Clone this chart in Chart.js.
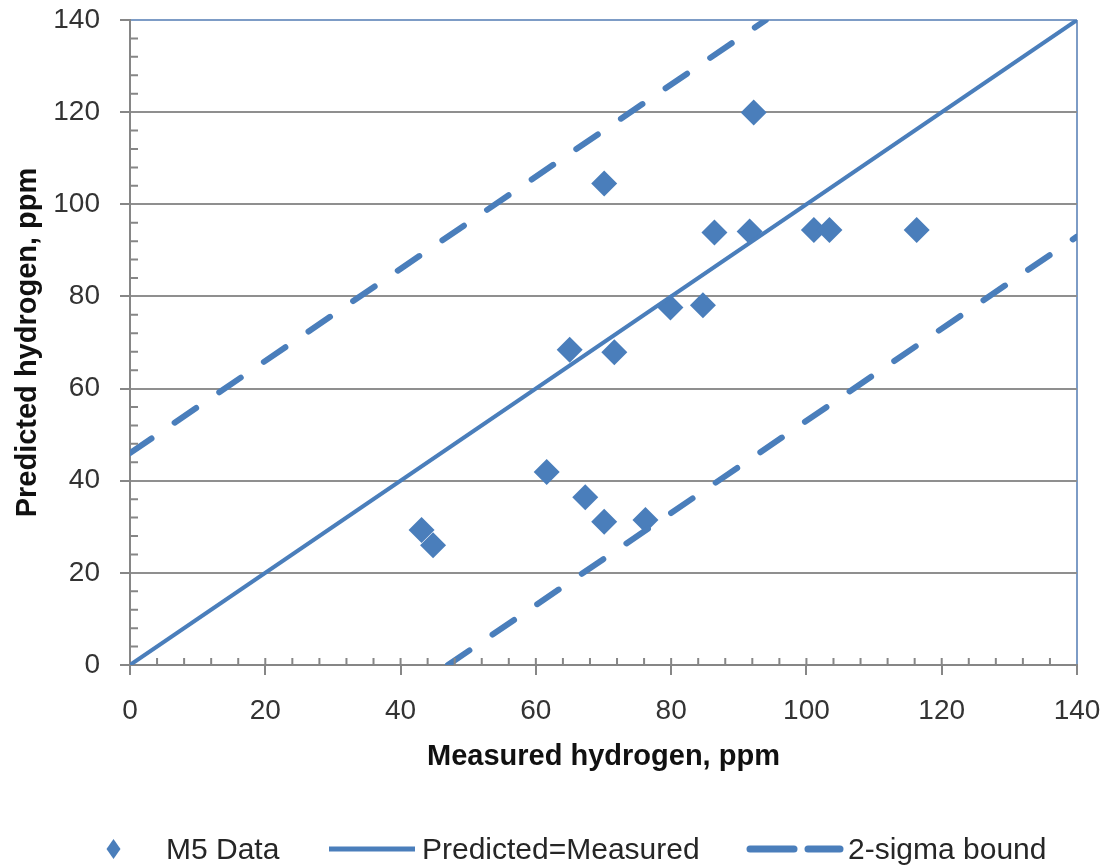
<!DOCTYPE html>
<html>
<head>
<meta charset="utf-8">
<script src="https://cdn.jsdelivr.net/npm/chart.js@4.4.1/dist/chart.umd.min.js"></script>
<style>
  body { margin: 0; background: #fff; }
  #wrap { position: relative; width: 1114px; height: 867px; }
  #legend { position: absolute; left: 0; top: 831px; width: 1114px; height: 36px;
    font: 30px "Liberation Sans", Arial, sans-serif; color: #262626; }
  #legend .item { position: absolute; top: 0; height: 36px; line-height: 36px; white-space: nowrap; }
  #legend svg { position: absolute; top: 0; }
</style>
</head>
<body>
<div id="wrap">
  <canvas id="chart" width="1114" height="867"></canvas>
  <div id="legend">
    <svg style="left:105px" width="17" height="36"><polygon points="8.5,8 15.5,18 8.5,28 1.5,18" fill="#4a7ebb"/></svg>
    <span class="item" style="left:166px">M5 Data</span>
    <svg style="left:326px" width="92" height="36"><line x1="3" y1="18" x2="89" y2="18" stroke="#4a7ebb" stroke-width="5"/></svg>
    <span class="item" style="left:422px">Predicted=Measured</span>
    <svg style="left:746px" width="100" height="36"><line x1="4" y1="18" x2="48" y2="18" stroke="#4a7ebb" stroke-width="7" stroke-linecap="round"/><line x1="62" y1="18" x2="94" y2="18" stroke="#4a7ebb" stroke-width="7" stroke-linecap="round"/></svg>
    <span class="item" style="left:848px">2-sigma bound</span>
  </div>
</div>
<script>
// M5 data points
const measured = [43.1, 44.8, 61.6, 65.0, 67.3, 70.1, 70.1, 71.6, 76.2, 79.9, 84.7, 86.4, 91.6, 92.2, 101.1, 103.4, 116.3];
const predicted = [29.3, 26.0, 41.9, 68.4, 36.4, 104.5, 31.1, 67.9, 31.5, 77.6, 78.1, 93.9, 94.1, 119.9, 94.4, 94.4, 94.4];

// reference lines
const equalLineX = [0, 140];
const equalLineY = [0, 140];
const upperBoundX = [0, 94];
const upperBoundY = [46, 140];
const lowerBoundX = [47, 140];
const lowerBoundY = [0, 93];

const axisMin = 0;
const axisMax = 140;
const majorStep = 20;
const minorStep = 4;

const blue = '#4a7ebb';
const frameBlue = '#7d9cc6';
const axisGray = '#868686';
const gridGray = '#8f8f8f';
const tickFont = { family: '"Liberation Sans", Arial, sans-serif', size: 28 };
const titleFont = { family: '"Liberation Sans", Arial, sans-serif', size: 29, weight: 'bold' };

const toPoints = (xs, ys) => xs.map((x, i) => ({ x: x, y: ys[i] }));

// minor tick marks, plus the inner half of the major x ticks
const minorTicks = {
  id: 'minorTicks',
  afterDraw(chart) {
    const ctx = chart.ctx;
    const xs = chart.scales.x, ys = chart.scales.y;
    const y0 = ys.getPixelForValue(axisMin);
    const x0 = xs.getPixelForValue(axisMin);
    ctx.save();
    ctx.strokeStyle = axisGray;
    ctx.lineWidth = 2;
    ctx.beginPath();
    for (let v = axisMin + minorStep; v < axisMax; v += minorStep) {
      const px = xs.getPixelForValue(v);
      ctx.moveTo(px, y0);
      ctx.lineTo(px, y0 - 7);
      const py = ys.getPixelForValue(v);
      if (v % majorStep !== 0) {
        ctx.moveTo(x0, py);
        ctx.lineTo(x0 + 8, py);
      }
    }
    ctx.stroke();
    ctx.restore();
  }
};

new Chart(document.getElementById('chart'), {
  type: 'scatter',
  data: {
    datasets: [
      {
        label: 'Predicted=Measured',
        data: toPoints(equalLineX, equalLineY),
        showLine: true,
        borderColor: blue,
        borderWidth: 4,
        pointRadius: 0,
        order: 0
      },
      {
        label: '2-sigma bound',
        data: toPoints(upperBoundX, upperBoundY),
        showLine: true,
        borderColor: blue,
        borderWidth: 6,
        borderDash: [26, 28],
        borderCapStyle: 'round',
        pointRadius: 0,
        order: 0
      },
      {
        label: '2-sigma bound (lower)',
        data: toPoints(lowerBoundX, lowerBoundY),
        showLine: true,
        borderColor: blue,
        borderWidth: 6,
        borderDash: [26, 28],
        borderCapStyle: 'round',
        pointRadius: 0,
        order: 0
      },
      {
        label: 'M5 Data',
        data: toPoints(measured, predicted),
        pointStyle: 'rectRot',
        pointRadius: 13,
        pointBorderWidth: 0,
        backgroundColor: blue,
        borderColor: blue,
        order: 1
      }
    ]
  },
  options: {
    responsive: false,
    animation: false,
    layout: { padding: { left: 0, top: 20, right: 37, bottom: 77 } },
    plugins: {
      legend: { display: false },
      tooltip: { enabled: false }
    },
    scales: {
      x: {
        type: 'linear',
        min: axisMin,
        max: axisMax,
        afterFit: (s) => { s.height = 125; s.paddingLeft = 0; s.paddingRight = 0; },
        border: { color: axisGray, width: 2 },
        grid: {
          color: (c) => (c.tick && c.tick.value === axisMax ? frameBlue : 'rgba(0,0,0,0)'),
          tickColor: axisGray,
          lineWidth: 2,
          tickLength: 10
        },
        ticks: { stepSize: majorStep, font: tickFont, color: '#333', padding: 19, maxRotation: 0 },
        title: { display: true, text: 'Measured hydrogen, ppm', font: titleFont, color: '#111', padding: { top: 0, bottom: 16 } }
      },
      y: {
        type: 'linear',
        min: axisMin,
        max: axisMax,
        afterFit: (s) => { s.width = 130; s.paddingTop = 0; s.paddingBottom = 0; },
        border: { color: axisGray, width: 2 },
        grid: {
          color: (c) => (c.tick && c.tick.value === axisMax ? frameBlue : gridGray),
          tickColor: axisGray,
          lineWidth: 2,
          tickLength: 10
        },
        ticks: { stepSize: majorStep, font: tickFont, color: '#333', padding: 20 },
        title: { display: true, text: 'Predicted hydrogen, ppm', font: titleFont, color: '#111', padding: { top: 11, bottom: 0 } }
      }
    }
  },
  plugins: [minorTicks]
});
</script>
</body>
</html>
